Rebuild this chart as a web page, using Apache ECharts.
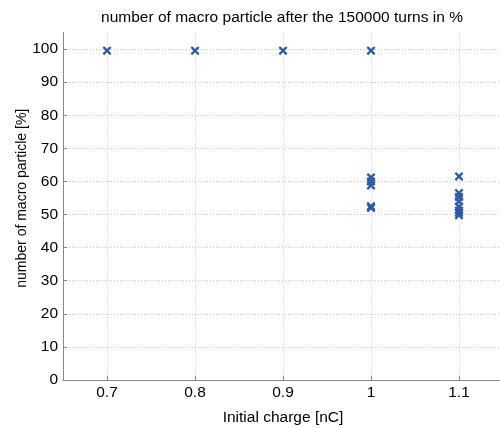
<!DOCTYPE html>
<html><head><meta charset="utf-8">
<script src="https://cdn.jsdelivr.net/npm/echarts@6/dist/echarts.min.js"></script>
<style>html,body{margin:0;padding:0;background:#fff}#c{width:500px;height:428px}</style>
</head><body><div id="c"></div>
<script>
const chargeValues = [0.7, 0.8, 0.9, 1.0, 1.0, 1.0, 1.0, 1.0, 1.0, 1.1, 1.1, 1.1, 1.1, 1.1, 1.1, 1.1, 1.1];
const particlePercent = [99.5, 99.5, 99.5, 99.5, 61.2, 60.0, 58.8, 52.5, 52.0, 61.5, 56.5, 55.3, 54.0, 52.4, 51.2, 50.5, 49.8];
const xTicks = [0.7, 0.8, 0.9, 1, 1.1];
const yTicks = [0, 10, 20, 30, 40, 50, 60, 70, 80, 90, 100];

const points = chargeValues.map((x, i) => [x, particlePercent[i]]);
const font = 'Liberation Sans, Arial, sans-serif';
const chart = echarts.init(document.getElementById('c'));
chart.setOption({
  animation: false,
  backgroundColor: '#fff',
  title: {
    text: 'number of macro particle after the 150000 turns in %',
    left: 277, top: 5, textAlign: 'center',
    textStyle: {fontFamily: font, fontSize: 15.5, fontWeight: 'normal', color: '#000'}
  },
  grid: {left: 63, top: 32.5, width: 440, height: 347.5, outerBoundsMode: 'none', containLabel: false},
  xAxis: {
    type: 'value', min: 0.65, max: 1.15,
    name: 'Initial charge [nC]', nameLocation: 'middle', nameGap: 30, nameMoveOverlap: false,
    nameTextStyle: {fontFamily: font, fontSize: 15.5, color: '#000'},
    axisLine: {show: true, lineStyle: {color: '#888', width: 1}},
    axisTick: {show: true, inside: true, length: 4, customValues: xTicks, lineStyle: {color: '#888'}},
    axisLabel: {customValues: xTicks, fontFamily: font, fontSize: 15.5, color: '#000', margin: 5,
      formatter: v => String(Math.round(v * 10) / 10)},
    splitLine: {show: true, lineStyle: {color: '#c4c4c4', type: [1, 2], width: 1}}
  },
  yAxis: {
    type: 'value', min: 0, max: 105, interval: 10,
    name: 'number of macro particle [%]', nameLocation: 'middle', nameGap: 34, nameMoveOverlap: false,
    nameTextStyle: {fontFamily: font, fontSize: 14, color: '#000', padding: [0, 0, 0, 16]},
    axisLine: {show: true, lineStyle: {color: '#888', width: 1}},
    axisTick: {show: true, inside: true, length: 4, customValues: yTicks, lineStyle: {color: '#888'}},
    axisLabel: {customValues: yTicks, fontFamily: font, fontSize: 15.5, color: '#000', margin: 5},
    splitLine: {show: true, lineStyle: {color: '#c4c4c4', type: [1, 2], width: 1}}
  },
  series: [{
    type: 'scatter',
    data: points,
    symbol: 'path://M0,1.8L1.8,0L5,3.2L8.2,0L10,1.8L6.8,5L10,8.2L8.2,10L5,6.8L1.8,10L0,8.2L3.2,5Z',
    symbolSize: 9,
    itemStyle: {color: '#2b59a8', opacity: 1}
  }]
});
</script></body></html>
